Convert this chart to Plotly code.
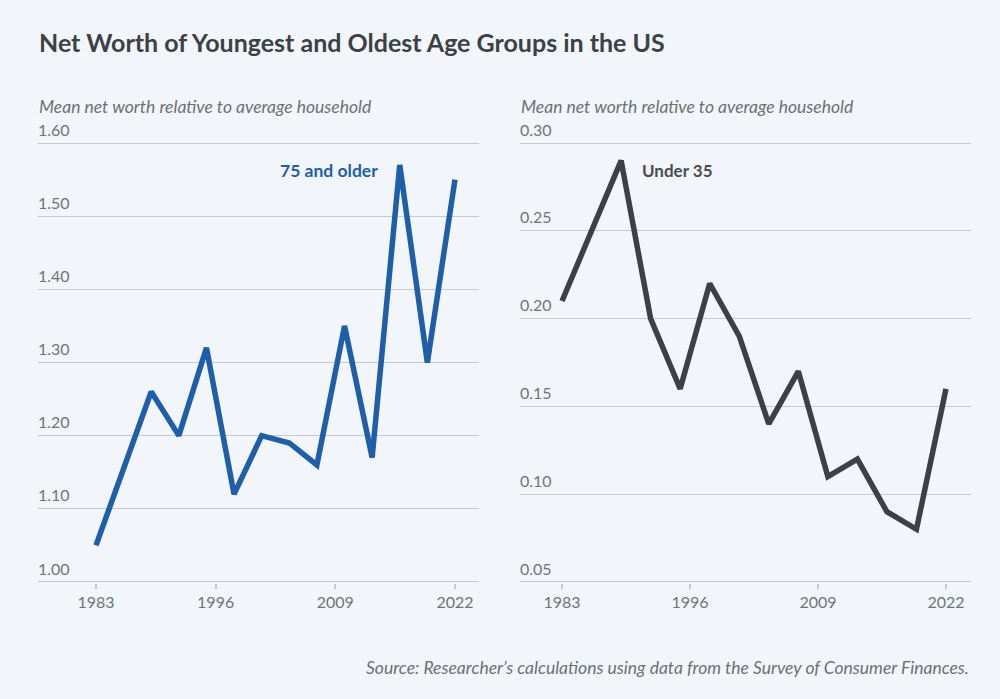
import plotly.graph_objects as go

years = [1983, 1989, 1992, 1995, 1998, 2001, 2004, 2007, 2010, 2013, 2016, 2019, 2022]
older_75 = [1.05, 1.26, 1.20, 1.32, 1.12, 1.20, 1.19, 1.16, 1.35, 1.17, 1.57, 1.30, 1.55]
under_35 = [0.21, 0.29, 0.20, 0.16, 0.22, 0.19, 0.14, 0.17, 0.11, 0.12, 0.09, 0.08, 0.16]
x_ticks = [1983, 1996, 2009, 2022]
left_yticks = [1.00, 1.10, 1.20, 1.30, 1.40, 1.50, 1.60]
right_yticks = [0.05, 0.10, 0.15, 0.20, 0.25, 0.30]

BG = "#f2f6fa"
GRID = "#c6cacf"
TICKC = "#707478"
FONT = "Lato"

fig = go.Figure()
fig.add_trace(go.Scatter(x=years, y=older_75, mode="lines", xaxis="x", yaxis="y",
                         line=dict(color="#1f5ea8", width=5.5), hoverinfo="skip"))
fig.add_trace(go.Scatter(x=years, y=under_35, mode="lines", xaxis="x2", yaxis="y2",
                         line=dict(color="#3e4044", width=5.5), hoverinfo="skip"))

ydom = [1 - 583 / 699, 1 - 142 / 699]
xcommon = dict(tickvals=x_ticks, ticktext=[str(v) for v in x_ticks], ticks="outside",
               ticklen=5, tickcolor=GRID, tickwidth=1.5, showgrid=False, zeroline=False,
               showline=False, tickfont=dict(family=FONT, size=16, color=TICKC), fixedrange=True)
ycommon = dict(showgrid=True, gridcolor=GRID, gridwidth=1.2, zeroline=False, showline=False,
               ticks="", ticklabelposition="inside", ticklabelshift=-13, ticklabelstandoff=-3,
               ticklabeloverflow="allow", automargin=False,
               tickfont=dict(family=FONT, size=16, color=TICKC), fixedrange=True)

fig.update_layout(
    width=1000, height=699,
    paper_bgcolor=BG, plot_bgcolor=BG,
    margin=dict(l=0, r=0, t=0, b=0, autoexpand=False),
    showlegend=False,
    xaxis=dict(domain=[0.038, 0.479], range=[1976.70, 2024.61], anchor="y", **xcommon),
    xaxis2=dict(domain=[0.520, 0.971], range=[1978.73, 2024.54], anchor="y2", **xcommon),
    yaxis=dict(domain=ydom, range=[0.9986, 1.6014], anchor="x", tickvals=left_yticks,
               ticktext=[f"{v:.2f}" for v in left_yticks], **ycommon),
    yaxis2=dict(domain=ydom, range=[0.0494, 0.3006], anchor="x2", tickvals=right_yticks,
                ticktext=[f"{v:.2f}" for v in right_yticks], **ycommon),
)

ann = [
    dict(text="<b>Net Worth of Youngest and Oldest Age Groups in the US</b>", x=0.037, y=1 - 42 / 699,
         font=dict(family=FONT, size=25, color="#3c4146"), xanchor="left"),
    dict(text="<i>Mean net worth relative to average household</i>", x=0.037, y=1 - 106 / 699,
         font=dict(family=FONT, size=17.5, color="#6c7075"), xanchor="left"),
    dict(text="<i>Mean net worth relative to average household</i>", x=0.519, y=1 - 106 / 699,
         font=dict(family=FONT, size=17.5, color="#6c7075"), xanchor="left"),
    dict(text="<i>Source: Researcher\u2019s calculations using data from the Survey of Consumer Finances.</i>",
         x=0.971, y=1 - 667 / 699, font=dict(family=FONT, size=17.5, color="#6c7075"), xanchor="right"),
    dict(text="<b>75 and older</b>", x=0.380, y=1 - 170 / 699,
         font=dict(family=FONT, size=17.5, color="#1f5ea8"), xanchor="right"),
    dict(text="<b>Under 35</b>", x=0.640, y=1 - 170 / 699,
         font=dict(family=FONT, size=17, color="#4a4c50"), xanchor="left"),
]
for a in ann:
    a.update(xref="paper", yref="paper", yanchor="middle", showarrow=False)
fig.update_layout(annotations=ann)

fig.write_html(
    "out.html",
    post_script=(
        "document.body.style.margin='0';"
        "document.body.style.background='%s';"
        "var s=document.createElement('style');"
        "s.innerHTML='.modebar-container{display:none !important;}';"
        "document.head.appendChild(s);" % BG
    ),
)
